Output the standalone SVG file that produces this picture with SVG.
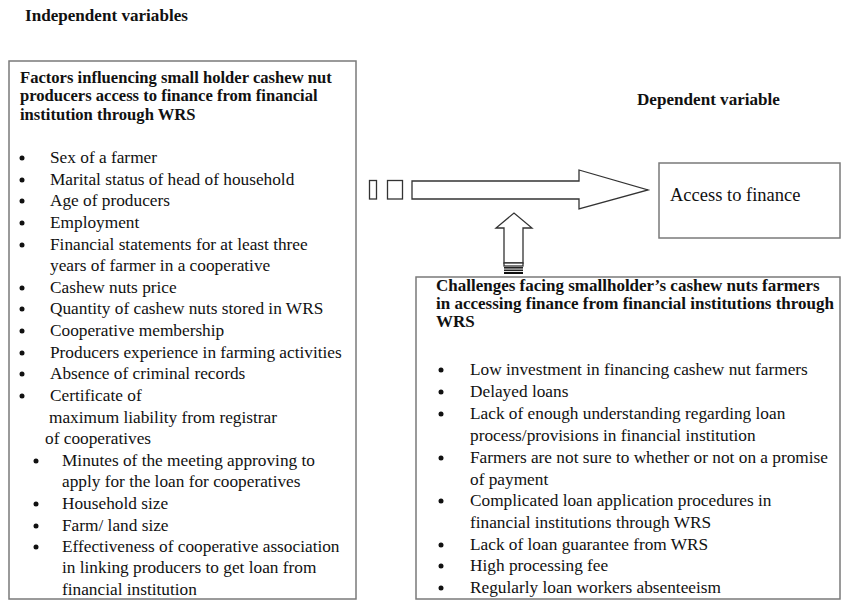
<svg xmlns="http://www.w3.org/2000/svg" width="841" height="607" viewBox="0 0 841 607">
<style>
.box{fill:#fff;stroke:#7a7a7a;stroke-width:1.5}
.arr{fill:#fff;stroke:#333;stroke-width:1.3}
.h{font-family:"Liberation Serif","Times New Roman",serif;font-weight:bold;font-size:17.1px;fill:#111}
.hl{font-size:16.6px}
.hr{font-size:17px}
.t{font-family:"Liberation Serif","Times New Roman",serif;font-size:17.3px;fill:#111}
.b{fill:#111}
</style>
<rect width="841" height="607" fill="#fff"/>
<text class="h" x="25" y="21">Independent variables</text>
<text class="h" x="637" y="105">Dependent variable</text>

<g id="factors">
<rect class="box" x="9" y="61" width="347" height="538"/>
<text class="h hl" x="20" y="83">Factors influencing small holder cashew nut</text>
<text class="h hl" x="20" y="101">producers access to finance from financial</text>
<text class="h hl" x="20" y="120">institution through WRS</text>
<g class="b">
<circle cx="22" cy="158" r="2.5"/><circle cx="22" cy="180" r="2.5"/><circle cx="22" cy="201" r="2.5"/><circle cx="22" cy="223" r="2.5"/><circle cx="22" cy="245" r="2.5"/><circle cx="22" cy="288" r="2.5"/><circle cx="22" cy="309" r="2.5"/><circle cx="22" cy="331" r="2.5"/><circle cx="22" cy="353" r="2.5"/><circle cx="22" cy="374" r="2.5"/><circle cx="22" cy="396" r="2.5"/>
<circle cx="36" cy="461" r="2.5"/><circle cx="36" cy="504" r="2.5"/><circle cx="36" cy="526" r="2.5"/><circle cx="36" cy="547" r="2.5"/>
</g>
<text class="t" x="50" y="163">Sex of a farmer</text>
<text class="t" x="50" y="185">Marital status of head of household</text>
<text class="t" x="50" y="206">Age of producers</text>
<text class="t" x="50" y="228">Employment</text>
<text class="t" x="50" y="250">Financial statements for at least three</text>
<text class="t" x="50" y="271">years of farmer in a cooperative</text>
<text class="t" x="50" y="293">Cashew nuts price</text>
<text class="t" x="50" y="314">Quantity of cashew nuts stored in WRS</text>
<text class="t" x="50" y="336">Cooperative membership</text>
<text class="t" x="50" y="358">Producers experience in farming activities</text>
<text class="t" x="50" y="379">Absence of criminal records</text>
<text class="t" x="50" y="401">Certificate of</text>
<text class="t" x="49" y="423">maximum liability from registrar</text>
<text class="t" x="45" y="444">of cooperatives</text>
<text class="t" x="62" y="466">Minutes of the meeting approving to</text>
<text class="t" x="62" y="487">apply for the loan for cooperatives</text>
<text class="t" x="62" y="509">Household size</text>
<text class="t" x="62" y="531">Farm/ land size</text>
<text class="t" x="62" y="552">Effectiveness of cooperative association</text>
<text class="t" x="62" y="573">in linking producers to get loan from</text>
<text class="t" x="62" y="595">financial institution</text>
</g>

<g id="access">
<rect class="box" x="659" y="163" width="181" height="75"/>
<text class="t" x="670" y="201" style="font-size:18.5px">Access to finance</text>
</g>

<g id="challenges">
<rect class="box" x="416" y="277" width="424" height="322"/>
<text class="h hr" x="436" y="291">Challenges facing smallholder’s cashew nuts farmers</text>
<text class="h hr" x="436" y="309">in accessing finance from financial institutions through</text>
<text class="h hr" x="436" y="327">WRS</text>
<g class="b">
<circle cx="441" cy="370" r="2.5"/><circle cx="441" cy="392" r="2.5"/><circle cx="441" cy="414" r="2.5"/><circle cx="441" cy="458" r="2.5"/><circle cx="441" cy="501" r="2.5"/><circle cx="441" cy="545" r="2.5"/><circle cx="441" cy="566" r="2.5"/><circle cx="441" cy="588" r="2.5"/>
</g>
<text class="t" x="470" y="375">Low investment in financing cashew nut farmers</text>
<text class="t" x="470" y="397">Delayed loans</text>
<text class="t" x="470" y="419">Lack of enough understanding regarding loan</text>
<text class="t" x="470" y="441">process/provisions in financial institution</text>
<text class="t" x="470" y="463">Farmers are not sure to whether or not on a promise</text>
<text class="t" x="470" y="485">of payment</text>
<text class="t" x="470" y="506">Complicated loan application procedures in</text>
<text class="t" x="470" y="528">financial institutions through WRS</text>
<text class="t" x="470" y="550">Lack of loan guarantee from WRS</text>
<text class="t" x="470" y="571">High processing fee</text>
<text class="t" x="470" y="593">Regularly loan workers absenteeism</text>
</g>

<g id="connectors">
<rect class="arr" x="369.5" y="180.5" width="7" height="18.5"/>
<rect class="arr" x="387.5" y="180.5" width="15" height="18.5"/>
<path class="arr" d="M412,181 H579 V170 L648,190 L579,209 V199 H412 Z"/>
<path class="arr" d="M504,263 V228 H496 L514,213 L532,228 H523 V263 Z"/>
<rect class="arr" x="504" y="263" width="19" height="3"/>
<rect x="504" y="267" width="19" height="1.6" fill="#222"/>
<rect x="504" y="269.5" width="19" height="1.6" fill="#222"/>
<rect x="504" y="272" width="19" height="2" fill="#111"/>
</g>
</svg>
